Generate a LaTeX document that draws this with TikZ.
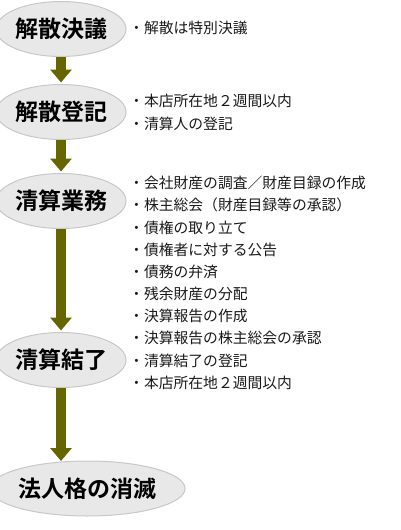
\documentclass[tikz,border=0pt]{standalone}
\usepackage{fontspec}
\newfontfamily\jpsans{Noto Sans CJK JP}
\newfontfamily\jpbold{Noto Sans CJK JP Bold}
\usetikzlibrary{shapes.geometric,arrows.meta}
\definecolor{arrowolive}{RGB}{102,102,0}
\definecolor{ellfill}{RGB}{232,232,232}
\definecolor{elldraw}{RGB}{200,200,200}
\tikzset{
  stage/.style={ellipse, fill=ellfill, draw=elldraw, line width=1pt, inner sep=0pt,
    minimum width=118pt, minimum height=55pt, font=\jpbold\fontsize{23}{23}\selectfont},
  flowarrow/.style={draw=arrowolive, line width=9.5pt,
    -{Triangle[width=21pt,length=13pt,fill=arrowolive]}, shorten >=1.5pt},
  note/.style={anchor=west, inner sep=0pt, text=black!90,
    font=\jpsans\fontsize{14.8}{14.8}\selectfont}
}
\begin{document}
\begin{tikzpicture}[x=1pt,y=-1pt]
\useasboundingbox (0,0) rectangle (400,530);
\node[stage] (e1) at (61,29) {解散決議};
\node[stage] (e2) at (61,112) {解散登記};
\node[stage] (e3) at (61,201) {清算業務};
\node[stage] (e4) at (61,360) {清算結了};
\node[stage, minimum width=171pt] (e5) at (87.5,488.5) {法人格の消滅};
\coordinate (e5top) at (61,462.5);
\draw[flowarrow] (e1.south) -- (e2.north);
\draw[flowarrow] (e2.south) -- (e3.north);
\draw[flowarrow] (e3.south) -- (e4.north);
\draw[flowarrow] (e4.south) -- (e5top);
\node[note] (n1) at (129,28) {・解散は特別決議};
\node[note] (n2) at (129,101) {・本店所在地２週間以内};
\node[note] (n3) at (129,124) {・清算人の登記};
\foreach \t [count=\i from 0] in {会社財産の調査／財産目録の作成,株主総会（財産目録等の承認）,債権の取り立て,債権者に対する公告,債務の弁済,残余財産の分配,決算報告の作成,決算報告の株主総会の承認,清算結了の登記,本店所在地２週間以内}
  \node[note] (m\i) at (129,183+22.2*\i) {・\t};
\end{tikzpicture}
\end{document}
